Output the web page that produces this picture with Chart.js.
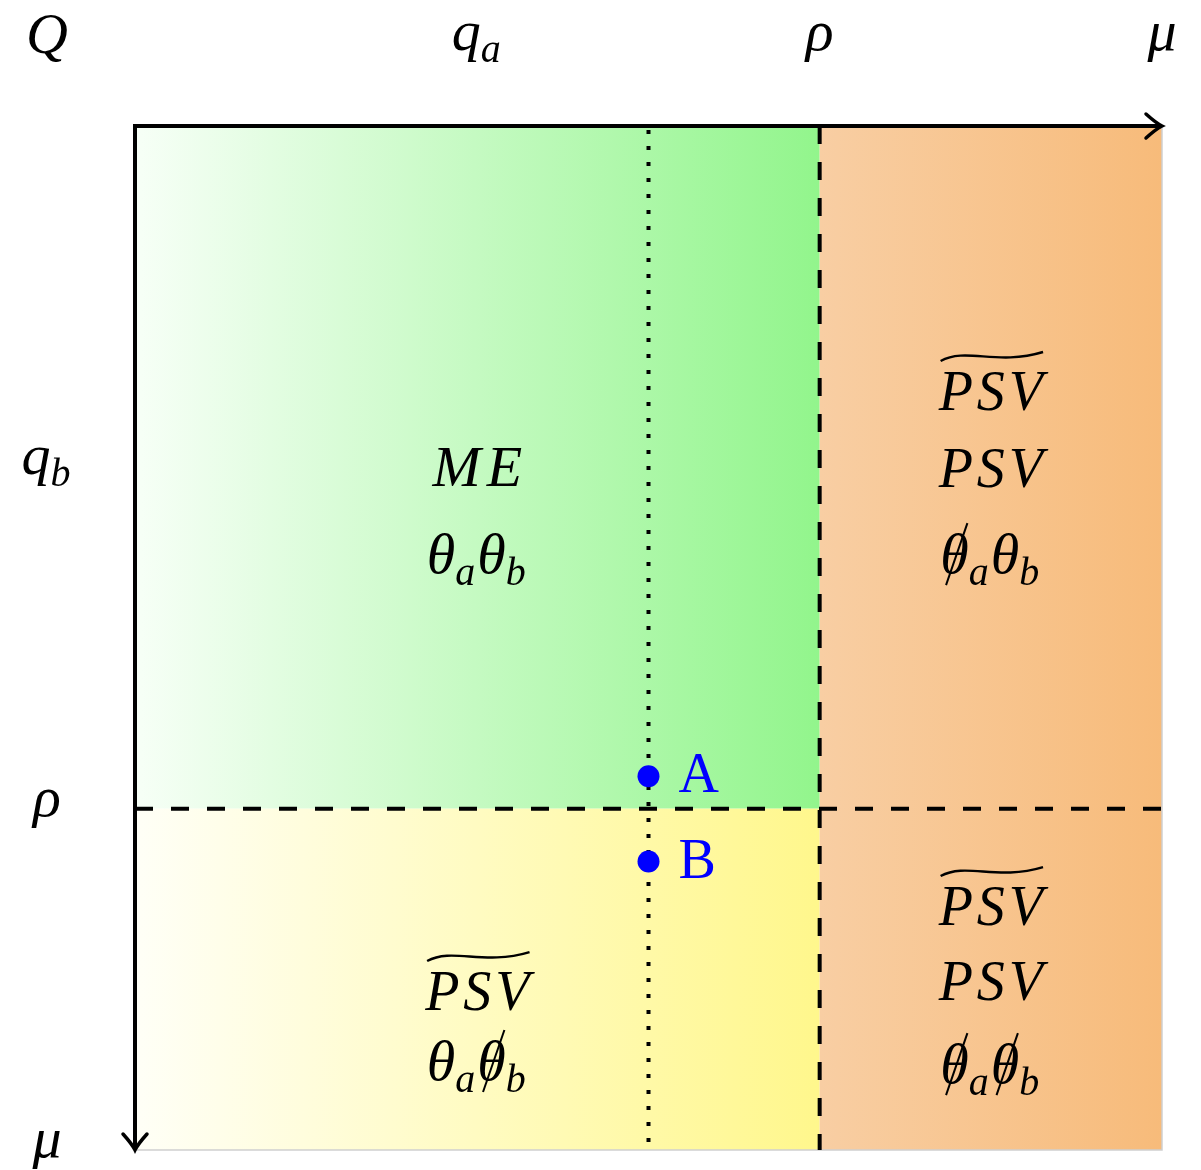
<!DOCTYPE html>
<html>
<head>
<meta charset="utf-8">
<script src="https://cdn.jsdelivr.net/npm/chart.js@4.4.1/dist/chart.umd.min.js"></script>
<style>
  html, body { margin: 0; padding: 0; background: #fff; }
  #wrap { width: 1201px; height: 1170px; }
</style>
</head>
<body>
<div id="wrap"><canvas id="chart" width="1201" height="1170"></canvas></div>
<script>
// axis ticks: values on the mu axes and their labels
const xTickValues = [1, 2, 3];
const xTickLabels = ['q_a', 'ρ', 'μ'];
const yTickValues = [1, 2, 3];
const yTickLabels = ['q_b', 'ρ', 'μ'];
const originLabel = 'Q';

// region boundaries (data units)
const axisMax = 3;
const rhoX = 2;
const rhoY = 2;
const qaLine = 1.5;

// the two marked points
const pointNames = ['A', 'B'];
const pointX = [1.5, 1.5];
const pointY = [1.905, 2.155];

// text of each cell ('~' = wide tilde, '/' = slashed symbol, '_' = subscript)
const cellCenterX = [1, 2.5, 1, 2.5];
const cellText = [
  ['M E', 'θ_a θ_b'],
  ['~PSV', 'PSV', '/θ_a θ_b'],
  ['~PSV', 'θ_a /θ_b'],
  ['~PSV', 'PSV', '/θ_a /θ_b']
];
const cellBaseY = [
  [1.055, 1.31],
  [0.832, 1.058, 1.31],
  [2.59, 2.795],
  [2.341, 2.561, 2.804]
];

const MATH = 'italic 58px "Liberation Serif", "DejaVu Serif", serif';
const SUB = 'italic 40px "Liberation Serif", "DejaVu Serif", serif';
const CAL = 'italic 56px "Liberation Serif", "DejaVu Serif", serif';

function parseMath(str) {
  let tilde = false;
  if (str[0] === '~') { tilde = true; str = str.slice(1); }
  const toks = str.split(' ').map(s => {
    const slash = s[0] === '/';
    if (slash) s = s.slice(1);
    const parts = s.split('_');
    return { base: parts[0], sub: parts[1], slash: slash };
  });
  return { tilde, toks };
}

function drawMath(ctx, str, cx, by, opts) {
  opts = opts || {};
  const m = parseMath(str);
  const gap = opts.gap || 0;
  ctx.save();
  ctx.fillStyle = opts.color || '#000';
  ctx.textBaseline = 'alphabetic';
  ctx.textAlign = 'left';
  // measure
  let total = 0;
  const widths = m.toks.map(t => {
    ctx.font = t.base === 'PSV' ? CAL : (opts.font || MATH);
    let w = t.base === 'PSV' ? ctx.measureText('PSV').width + 8 : ctx.measureText(t.base).width;
    let ws = 0;
    if (t.sub) { ctx.font = SUB; ws = ctx.measureText(t.sub).width + 2; }
    return [w, ws];
  });
  widths.forEach((w, i) => { total += w[0] + w[1] + (i ? gap : 0); });
  let x = cx - total / 2;
  const x0 = x;
  m.toks.forEach((t, i) => {
    if (i) x += gap;
    if (t.base === 'PSV') {
      ctx.font = CAL;
      let lx = x;
      ['P', 'S', 'V'].forEach(ch => {
        ctx.fillText(ch, lx, by);
        lx += ctx.measureText(ch).width + 4;
      });
    } else {
      ctx.font = opts.font || MATH;
      ctx.fillText(t.base, x, by);
    }
    const bw = widths[i][0];
    if (t.slash) {
      ctx.save();
      ctx.strokeStyle = '#000';
      ctx.lineWidth = 2;
      ctx.beginPath();
      ctx.moveTo(x + bw * 0.2, by + 12);
      ctx.lineTo(x + bw * 0.95, by - 50);
      ctx.stroke();
      ctx.restore();
    }
    x += bw;
    if (t.sub) {
      ctx.font = SUB;
      ctx.fillText(t.sub, x, by + 12);
      x += widths[i][1];
    }
  });
  if (m.tilde) {
    const l = x0 + 2, r = x0 + total;
    const ty = by - 54;
    ctx.strokeStyle = '#000';
    ctx.lineWidth = 2.4;
    ctx.beginPath();
    ctx.moveTo(l, ty + 5);
    ctx.bezierCurveTo(l + (r - l) * 0.25, ty - 9, l + (r - l) * 0.55, ty + 10, r, ty - 4);
    ctx.stroke();
  }
  ctx.restore();
}

const diagramPlugin = {
  id: 'diagram',
  beforeDatasetsDraw(chart) {
    const ctx = chart.ctx;
    const xs = chart.scales.x, ys = chart.scales.y;
    const x0 = xs.getPixelForValue(0), xr = xs.getPixelForValue(rhoX), x1 = xs.getPixelForValue(axisMax);
    const y0 = ys.getPixelForValue(0), yr = ys.getPixelForValue(rhoY), y1 = ys.getPixelForValue(axisMax);
    ctx.save();
    // green cell
    let g = ctx.createLinearGradient(x0, 0, xr, 0);
    g.addColorStop(0, 'rgb(247,255,247)');
    g.addColorStop(1, 'rgb(146,245,140)');
    ctx.fillStyle = g;
    ctx.fillRect(x0, y0, xr - x0, yr - y0);
    // yellow cell
    g = ctx.createLinearGradient(x0, 0, xr, 0);
    g.addColorStop(0, 'rgb(255,255,247)');
    g.addColorStop(1, 'rgb(255,247,140)');
    ctx.fillStyle = g;
    ctx.fillRect(x0, yr, xr - x0, y1 - yr);
    // orange column
    g = ctx.createLinearGradient(xr, 0, x1, 0);
    g.addColorStop(0, 'rgb(248,206,163)');
    g.addColorStop(1, 'rgb(247,187,122)');
    ctx.fillStyle = g;
    ctx.fillRect(xr, y0, x1 - xr, y1 - y0);
    // faint border
    ctx.strokeStyle = '#cfcfcf';
    ctx.lineWidth = 1.5;
    ctx.beginPath();
    ctx.moveTo(x0, y1); ctx.lineTo(x1, y1); ctx.lineTo(x1, y0);
    ctx.stroke();

    ctx.strokeStyle = '#000';
    // dotted q_a line
    const xq = xs.getPixelForValue(qaLine);
    ctx.lineWidth = 4;
    ctx.setLineDash([4, 12]);
    ctx.beginPath();
    ctx.moveTo(xq, y0 + 4); ctx.lineTo(xq, y1);
    ctx.stroke();
    // dashed rho lines
    ctx.setLineDash([18, 18]);
    ctx.beginPath();
    ctx.moveTo(xr, y0); ctx.lineTo(xr, y1);
    ctx.moveTo(x0, yr); ctx.lineTo(x1, yr);
    ctx.stroke();
    ctx.setLineDash([]);

    // axes with arrows
    ctx.lineWidth = 4;
    ctx.lineCap = 'butt';
    ctx.beginPath();
    ctx.moveTo(x0 - 2, y0); ctx.lineTo(x1, y0);
    ctx.moveTo(x0, y0 - 2); ctx.lineTo(x0, y1);
    ctx.stroke();
    ctx.lineWidth = 3.5;
    ctx.lineCap = 'round';
    ctx.beginPath();
    ctx.moveTo(x1 - 16, y0 - 12); ctx.quadraticCurveTo(x1 - 6, y0 - 3, x1, y0);
    ctx.quadraticCurveTo(x1 - 6, y0 + 3, x1 - 16, y0 + 12);
    ctx.moveTo(x0 - 12, y1 - 16); ctx.quadraticCurveTo(x0 - 3, y1 - 6, x0, y1);
    ctx.quadraticCurveTo(x0 + 3, y1 - 6, x0 + 12, y1 - 16);
    ctx.stroke();
    ctx.restore();
  },
  afterDatasetsDraw(chart) {
    const ctx = chart.ctx;
    const xs = chart.scales.x, ys = chart.scales.y;
    const top = ys.getPixelForValue(0);
    const left = xs.getPixelForValue(0);
    // tick labels
    drawMath(ctx, originLabel, 47, top - 73);
    xTickValues.forEach((v, i) => drawMath(ctx, xTickLabels[i], xs.getPixelForValue(v), top - 76));
    yTickValues.forEach((v, i) => drawMath(ctx, yTickLabels[i], left - 88, ys.getPixelForValue(v) + 7));
    // cell texts
    cellText.forEach((lines, c) => {
      lines.forEach((s, j) => {
        drawMath(ctx, s, xs.getPixelForValue(cellCenterX[c]), ys.getPixelForValue(cellBaseY[c][j]),
          s === 'M E' ? { gap: 6 } : {});
      });
    });
    // point labels
    ctx.save();
    ctx.fillStyle = '#0000ff';
    ctx.font = '56px "Liberation Serif", serif';
    ctx.textBaseline = 'alphabetic';
    pointNames.forEach((n, i) => {
      ctx.fillText(n, xs.getPixelForValue(pointX[i]) + 30, ys.getPixelForValue(pointY[i]) + 16);
    });
    ctx.restore();
  }
};

new Chart(document.getElementById('chart'), {
  type: 'scatter',
  data: {
    datasets: [{
      data: pointX.map((x, i) => ({ x: x, y: pointY[i] })),
      backgroundColor: '#0000ff',
      borderWidth: 0,
      pointRadius: 11
    }]
  },
  options: {
    responsive: false,
    animation: false,
    layout: { autoPadding: false, padding: { left: 135, right: 39, top: 126, bottom: 20 } },
    plugins: { legend: { display: false }, tooltip: { enabled: false } },
    scales: {
      x: { type: 'linear', min: 0, max: axisMax, display: false },
      y: { type: 'linear', min: 0, max: axisMax, reverse: true, display: false }
    }
  },
  plugins: [diagramPlugin]
});
</script>
</body>
</html>
